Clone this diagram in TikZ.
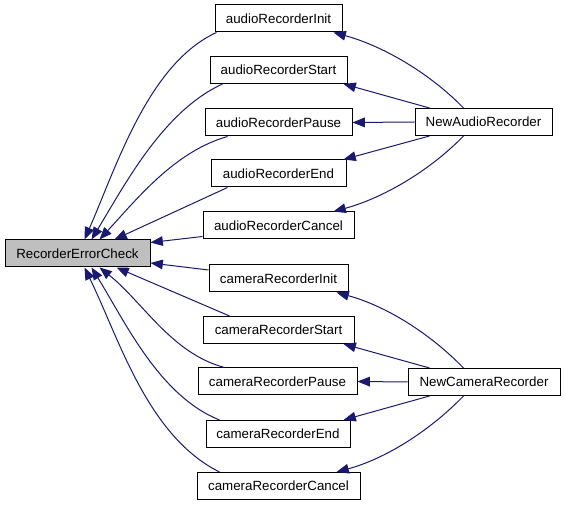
\documentclass[tikz,border=0pt]{standalone}
\usepackage{fontspec}
\setmainfont{Liberation Sans}
\usetikzlibrary{arrows.meta,calc}
\definecolor{edgec}{HTML}{191970}
\begin{document}
\begin{tikzpicture}[x=0.75pt,y=-0.75pt,
  box/.style={draw=black,fill=white,line width=0.75pt,minimum height=20.25pt,inner sep=0pt,font=\fontsize{10}{12}\selectfont},
  edge/.style={draw=edgec,line width=0.75pt,-{Triangle[length=9.25pt,width=7.25pt]}}]
\useasboundingbox (0,0) rectangle (565,505);
% nodes
\node[box,fill=black!25,minimum width=108.75pt] (REC) at (77.5,253.5) {RecorderErrorCheck};
\node[box,minimum width=95.25pt]  (aInit)   at (278.5,18.5)  {audioRecorderInit};
\node[box,minimum width=102.75pt] (aStart)  at (278.5,70)    {audioRecorderStart};
\node[box,minimum width=110.25pt] (aPause)  at (278.5,122.5) {audioRecorderPause};
\node[box,minimum width=101.25pt] (aEnd)    at (278.5,173.5) {audioRecorderEnd};
\node[box,minimum width=113.25pt] (aCancel) at (278.5,225.5) {audioRecorderCancel};
\node[box,minimum width=104.25pt] (cInit)   at (278.5,278.5) {cameraRecorderInit};
\node[box,minimum width=113.25pt] (cStart)  at (278.5,330)   {cameraRecorderStart};
\node[box,minimum width=119.25pt] (cPause)  at (277.5,381.5) {cameraRecorderPause};
\node[box,minimum width=108pt]    (cEnd)    at (278,434)     {cameraRecorderEnd};
\node[box,minimum width=122.25pt] (cCancel) at (278.5,486)   {cameraRecorderCancel};
\node[box,minimum width=102.75pt] (NAR)     at (483.5,122)   {NewAudioRecorder};
\node[box,minimum width=114pt]    (NCR)     at (484,382)     {NewCameraRecorder};
% edges into RecorderErrorCheck (top)
\draw[edge] ($(aInit.south west)+(2,0)$) .. controls +(-68,31) and +(32,-73) .. ($(REC.north west)+(80,0)$);
\draw[edge] ($(aStart.south west)+(13,0)$) .. controls +(-59,27) and +(34,-56) .. ($(REC.north west)+(87,0)$);
\draw[edge] ($(aPause.south west)+(23,0)$) .. controls +(-53,15) and +(37,-40) .. ($(REC.north west)+(95,0)$);
\draw[edge] ($(aEnd.south west)+(17,0)$) -- ($(REC.north west)+(110,0)$);
\draw[edge] ($(aCancel.west)+(0,11)$) -- ($(REC.east)+(0,-11)$);
% edges into RecorderErrorCheck (bottom)
\draw[edge] ($(cInit.west)+(0,-8.5)$) -- ($(REC.east)+(0,9.5)$);
\draw[edge] ($(cStart.north west)+(27,0)$) -- ($(REC.south west)+(112,0)$);
\draw[edge] ($(cPause.north west)+(27,0)$) .. controls +(-53,-14) and +(43,34) .. ($(REC.south west)+(95,0)$);
\draw[edge] ($(cEnd.north west)+(14,0)$) .. controls +(-60,-24) and +(34,55) .. ($(REC.south west)+(87,0)$);
\draw[edge] ($(cCancel.north west)+(23,0)$) .. controls +(-72,-36) and +(35,72) .. ($(REC.south west)+(80,0)$);
% NewAudioRecorder edges
\draw[edge] ($(NAR.north west)+(49,0)$) .. controls +(-35,-36) and +(48,13) .. ($(aInit.south east)+(-9,0)$);
\draw[edge] ($(NAR.north west)+(15,0)$) -- ($(aStart.south east)+(-4,0)$);
\draw[edge] (NAR.west) -- (aPause.east);
\draw[edge] ($(NAR.south west)+(15,0)$) -- ($(aEnd.north east)+(-3,0)$);
\draw[edge] ($(NAR.south west)+(49,0)$) .. controls +(-35,36) and +(48,-13) .. ($(aCancel.north east)+(-21,0)$);
% NewCameraRecorder edges
\draw[edge] ($(NCR.north west)+(56,0)$) .. controls +(-35,-36) and +(48,13) .. ($(cInit.south east)+(-12,0)$);
\draw[edge] ($(NCR.north west)+(22,0)$) -- ($(cStart.south east)+(-11,0)$);
\draw[edge] (NCR.west) -- (cPause.east);
\draw[edge] ($(NCR.south west)+(22,0)$) -- ($(cEnd.north east)+(-7,0)$);
\draw[edge] ($(NCR.south west)+(56,0)$) .. controls +(-35,36) and +(48,-13) .. ($(cCancel.north east)+(-24,0)$);
\end{tikzpicture}
\end{document}
